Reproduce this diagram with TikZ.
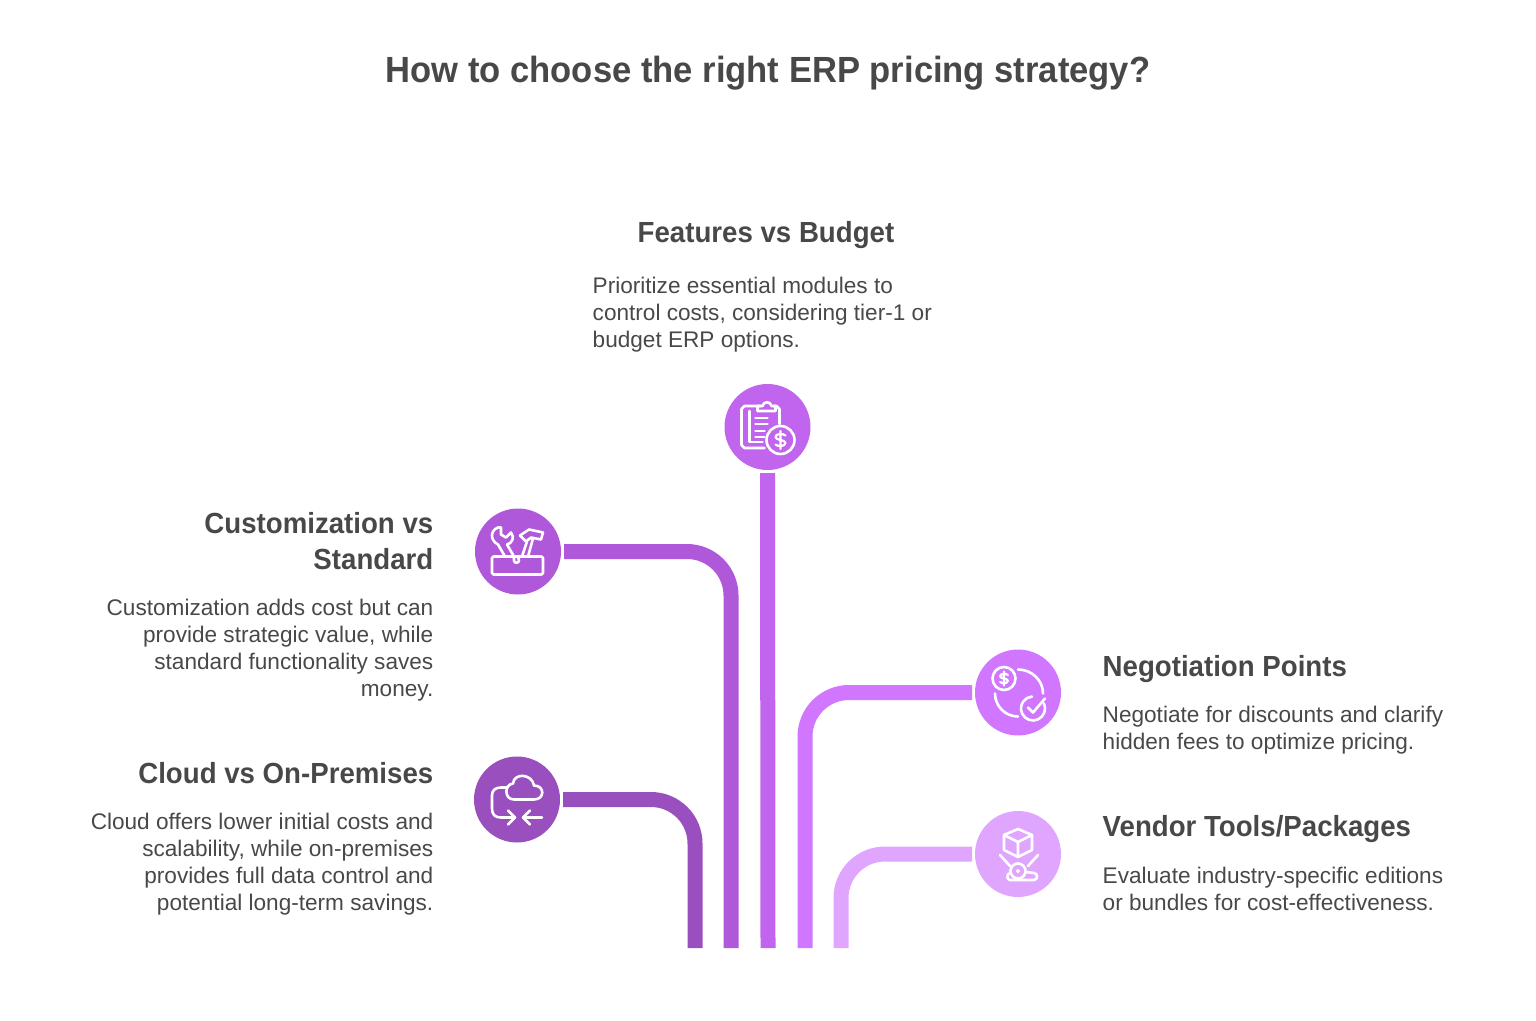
\documentclass[tikz,border=0pt]{standalone}
\usepackage{fontspec}
\setmainfont[BoldFeatures={FakeStretch=0.95}]{Liberation Sans}
\usetikzlibrary{positioning}
\definecolor{cloudcol}{HTML}{9A4FBE}
\definecolor{customcol}{HTML}{AF58D9}
\definecolor{featurecol}{HTML}{C265EE}
\definecolor{negotiatecol}{HTML}{D176FF}
\definecolor{vendorcol}{HTML}{E0A6FF}
\definecolor{inkcol}{HTML}{484848}
\tikzset{
	disc/.style={shape=circle,fill=#1,minimum size=86pt,inner sep=0pt,outer sep=3pt},
	branch/.style={draw=#1,line width=15pt,rounded corners=44pt},
	pen/.style={draw=white,line width=2.6pt,line cap=round,line join=round},
	titletext/.style={text=inkcol,font=\fontsize{36.4}{42}\selectfont\bfseries,inner sep=0pt},
	headleft/.style={text=inkcol,font=\fontsize{29.1}{35.5}\selectfont\bfseries,inner sep=0pt,align=right,anchor=north east},
	headright/.style={text=inkcol,font=\fontsize{29.1}{35.5}\selectfont\bfseries,inner sep=0pt,align=left,anchor=north west},
	bodyleft/.style={text=inkcol,font=\fontsize{22.6}{27}\selectfont,inner sep=0pt,align=right,anchor=north east},
	bodyright/.style={text=inkcol,font=\fontsize{22.6}{27}\selectfont,inner sep=0pt,align=left,anchor=north west},
}
\newcommand{\dollarmark}[3]{% centre x, centre y, half height
	\draw[pen,line width=2.2pt,shift={(#1,#2)}] (0.55*#3,-0.5*#3) .. controls (0.3*#3,-0.75*#3) and (-0.6*#3,-0.75*#3) .. (-0.55*#3,-0.3*#3)
		.. controls (-0.5*#3,0.05*#3) and (0.55*#3,-0.05*#3) .. (0.55*#3,0.32*#3)
		.. controls (0.55*#3,0.75*#3) and (-0.35*#3,0.75*#3) .. (-0.55*#3,0.5*#3)
		(0,-#3) -- (0,#3);
}
\newcommand{\featureicon}[1]{
	\begin{scope}[shift={(#1)}]
		\draw[pen] (-7,-21) -- (-23,-21) -- (-26,-18) -- (-26,18) -- (-23,21) -- (-3,21);
		\draw[pen] (6,-21) -- (9,-21) -- (12,-18) -- (12,-3);
		\draw[pen] (-10,-16) -- (-10,-21) -- (-5,-21) .. controls (-4,-26) and (3,-26) .. (4,-21) -- (8,-21) -- (8,-16) -- cycle;
		\draw[pen] (-18,-16) -- (-18,15) -- (-5,15);
		\draw[pen] (-12,-9) -- (0,-9) (-12,-3) -- (0,-3) (-12,4) -- (-3,4) (-12,10) -- (-3,10);
		\draw[pen] (13,13) circle (14);
		\dollarmark{13}{13}{9}
	\end{scope}
}
\newcommand{\customicon}[1]{
	\begin{scope}[shift={(#1)}]
		\draw[pen,rounded corners=1.5pt] (-26,5) rectangle (25,23);
		\draw[pen] (-13,5) -- (-20,-7) .. controls (-28,-11) and (-28,-21) .. (-20,-24) -- (-17,-24) -- (-17,-17) -- (-12,-14) -- (-7,-19)
			.. controls (-3,-14) and (-6,-8) .. (-11,-7) -- (-4,5) -- (-4,9) .. controls (-4,12) and (1,12) .. (1,9) -- (0,5);
		\draw[pen] (2,-16) -- (11,-22) -- (25,-19) -- (23,-12) -- (13,-14) -- (8,-10) -- cycle;
		\draw[pen] (9,-10) -- (4,5) (15,-13) -- (10,5);
	\end{scope}
}
\newcommand{\cloudicon}[1]{
	\begin{scope}[shift={(#1)}]
		\draw[pen] (-3,0) -- (17,0) .. controls (28,0) and (28,-14) .. (17,-14) .. controls (15,-26) and (-3,-27) .. (-4,-16)
			.. controls (-13,-15) and (-13,0) .. (-3,0) -- cycle;
		\draw[pen] (-10,-12) -- (-16,-12) .. controls (-22,-12) and (-25,-9) .. (-25,-4) -- (-25,9) .. controls (-25,15) and (-22,18) .. (-16,18) -- (-2,18);
		\draw[pen] (-9,11) -- (-2,18) -- (-9,25);
		\draw[pen] (25,18) -- (6,18) (13,11) -- (6,18) -- (13,25);
	\end{scope}
}
\newcommand{\negotiateicon}[1]{
	\begin{scope}[shift={(#1)}]
		\draw[pen] (-14,-14) circle (11.5);
		\dollarmark{-14}{-14}{7}
		\draw[pen] (0,-23) arc (-90:0:25 and 24);
		\draw[pen] (-23,1) arc (180:90:23);
		\draw[pen] (25.9,10.9) arc (-25:265:12);
		\draw[pen] (10,15) -- (15,20) -- (27,6);
	\end{scope}
}
\newcommand{\vendoricon}[1]{
	\begin{scope}[shift={(#1)}]
		\draw[pen] (0,-25) -- (14,-19) -- (14,-4) -- (0,3) -- (-14,-4) -- (-14,-19) -- cycle;
		\draw[pen] (-14,-19) -- (0,-12) -- (14,-19) (0,-12) -- (0,3);
		\draw[pen] (-18,1) -- (-8,12) (20,1) -- (10,12);
		\draw[pen] (0,17) circle (7.5);
		\draw[pen,fill=white,line width=1pt] (0,17) circle (1.6);
		\draw[pen] (-7,19) -- (-8,19) .. controls (-12,20) and (-11,26) .. (-8,26) -- (16,26) .. controls (20,26) and (20,19) .. (16,19) -- (8,18);
	\end{scope}
}

\begin{document}
\begin{tikzpicture}[x=1pt,y=-1pt]
	\useasboundingbox (0,0) rectangle (1536,1020);
	% discs
	\node[disc=featurecol] (feature) at (767.5,427) {};
	\node[disc=customcol] (custom) at (518,551.5) {};
	\node[disc=cloudcol] (cloud) at (517,799.5) {};
	\node[disc=negotiatecol] (negotiate) at (1018,692.5) {};
	\node[disc=vendorcol] (vendor) at (1018,854) {};
	% free ends of the branches
	\coordinate (cloudend) at (695,948);
	\coordinate (customend) at (731,948);
	\coordinate (featureend) at (768,948);
	\coordinate (negotiateend) at (805,948);
	\coordinate (vendorend) at (841,948);
	% branches
	\draw[branch=cloudcol] (cloud.east) -| (cloudend);
	\draw[branch=customcol] (custom.east) -| (customend);
	\draw[branch=featurecol] (feature.south) -- (featureend);
	\draw[branch=negotiatecol] (negotiate.west) -| (negotiateend);
	\draw[branch=vendorcol] (vendor.west) -| (vendorend);
	% icons
	\featureicon{feature}
	\customicon{custom}
	\cloudicon{cloud}
	\negotiateicon{negotiate}
	\vendoricon{vendor}
	% texts
	\node[titletext] (title) at (768,73) {How to choose the right ERP pricing strategy?};

	\node[headright] (featurehead) at (637.5,221) {Features vs Budget};
	\node[bodyright] (featurebody) at (592.5,276.5) {Prioritize essential modules to\\control costs, considering tier-1 or\\budget ERP options.};

	\node[headleft] (customhead) at (433.5,512.5) {Customization vs\\Standard};
	\node[bodyleft] (custombody) at (433.5,599) {Customization adds cost but can\\provide strategic value, while\\standard functionality saves\\money.};

	\node[headleft] (cloudhead) at (433.5,762) {Cloud vs On-Premises};
	\node[bodyleft] (cloudbody) at (433.5,813) {Cloud offers lower initial costs and\\scalability, while on-premises\\provides full data control and\\potential long-term savings.};

	\node[headright] (negotiatehead) at (1102.5,655) {Negotiation Points};
	\node[bodyright] (negotiatebody) at (1102.5,706) {Negotiate for discounts and clarify\\hidden fees to optimize pricing.};

	\node[headright] (vendorhead) at (1102.5,815.5) {Vendor Tools/Packages};
	\node[bodyright] (vendorbody) at (1102.5,866.5) {Evaluate industry-specific editions\\or bundles for cost-effectiveness.};
\end{tikzpicture}
\end{document}
